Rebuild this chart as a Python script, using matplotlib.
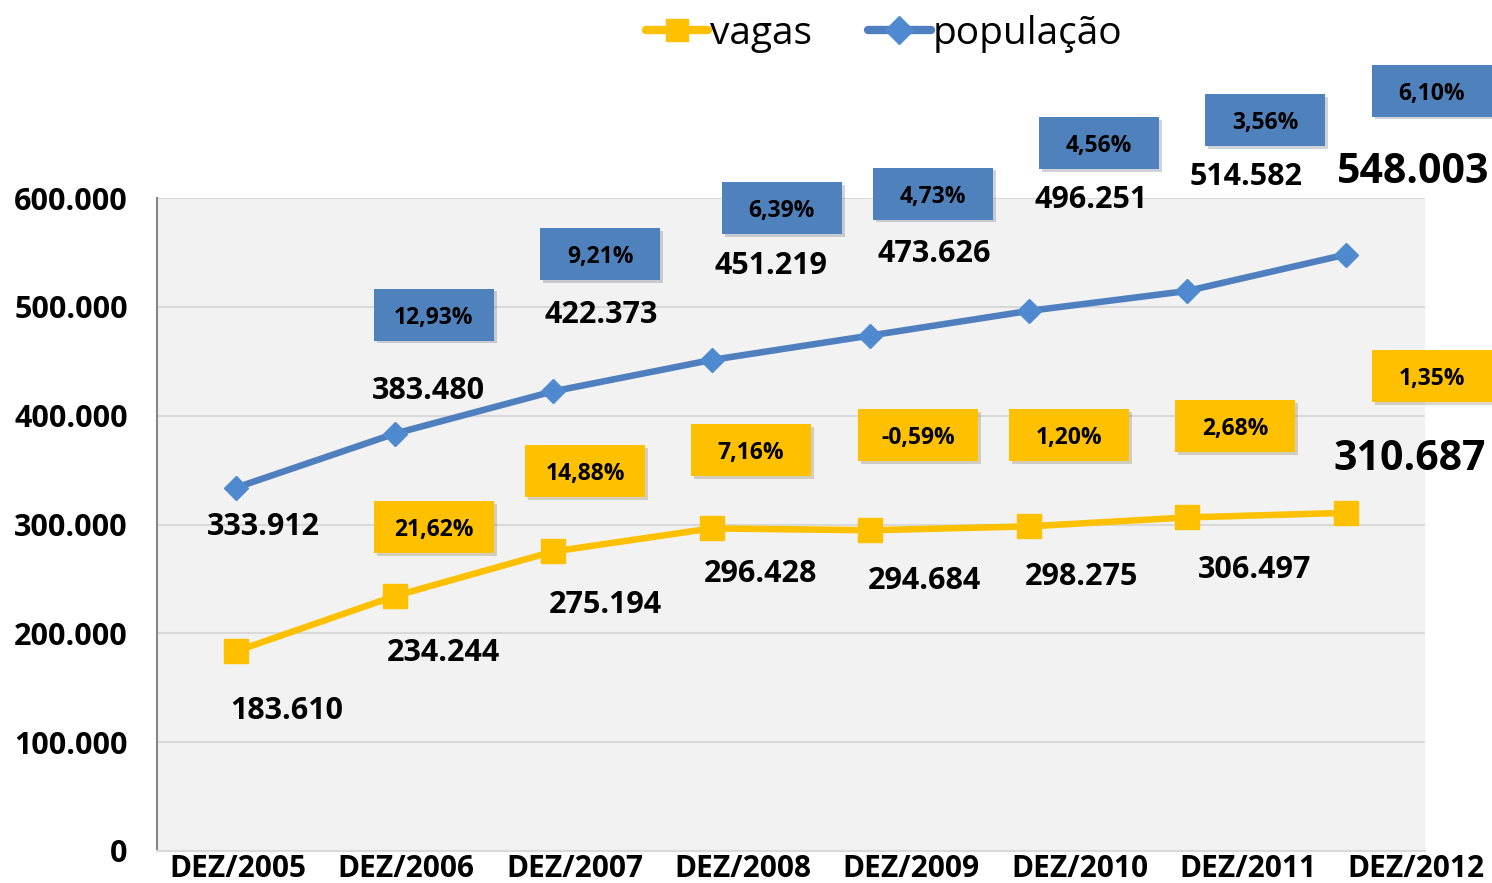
import matplotlib
matplotlib.use("Agg")
import matplotlib.pyplot as plt
from matplotlib.patches import Rectangle
from matplotlib.lines import Line2D
import matplotlib.patheffects as pe

plt.rcParams['font.family'] = ['Open Sans', 'DejaVu Sans']

categorias = ["DEZ/2005", "DEZ/2006", "DEZ/2007", "DEZ/2008",
              "DEZ/2009", "DEZ/2010", "DEZ/2011", "DEZ/2012"]
populacao = [333912, 383480, 422373, 451219, 473626, 496251, 514582, 548003]
vagas = [183610, 234244, 275194, 296428, 294684, 298275, 306497, 310687]
pct_populacao = ["", "12,93%", "9,21%", "6,39%", "4,73%", "4,56%", "3,56%", "6,10%"]
pct_vagas = ["", "21,62%", "14,88%", "7,16%", "-0,59%", "1,20%", "2,68%", "1,35%"]

# deslocamentos (em pixels) dos rotulos em relacao aos pontos
off_val_pop = [(27, -39), (34, 43), (48, 76), (59, 94), (64, 82), (62, 111), (59, 114), (67, 82)]
off_box_pop = [None, (39, 119), (47, 137), (70, 152), (63, 142), (70, 168), (78, 171), (86, 164)]
off_val_vag = [(51, -60), (49, -57), (52, -54), (49, -46), (54, -51), (53, -51), (67, -53), (64, 53)]
off_box_vag = [None, (39, 69), (32, 80), (39, 78), (48, 95), (40, 91), (48, 91), (86, 137)]

AZUL = "#4f81bd"
AZUL_LINHA = "#4f7fbf"
AMARELO = "#ffc000"

W, H = 1492, 883
fig = plt.figure(figsize=(W / 100, H / 100), dpi=100)
ax = fig.add_axes([157 / W, (H - 851) / H, (1425 - 157) / W, (851 - 198) / H])
ax.set_facecolor("#f2f2f2")

x = list(range(len(categorias)))
ax.plot(x, populacao, color=AZUL_LINHA, lw=4.7, marker="D", markersize=12,
        markerfacecolor="#4f8ad0", markeredgecolor="#4f8ad0", solid_capstyle="round", zorder=3)
ax.plot(x, vagas, color=AMARELO, lw=4.7, marker="s", markersize=17,
        markerfacecolor=AMARELO, markeredgecolor=AMARELO, solid_capstyle="round", zorder=3)

ax.set_xlim(-0.5, len(categorias) - 0.5)
ax.set_ylim(0, 600000)
ax.set_yticks(range(0, 600001, 100000))
ax.set_yticklabels(["0"] + [f"{v // 1000}.000" for v in range(100000, 600001, 100000)])
ax.tick_params(axis="y", length=0, pad=21, labelsize=22)
for lab in ax.get_yticklabels():
    lab.set_fontweight("bold")
ax.set_xticks([])
ax.grid(axis="y", color="#d9d9d9", lw=1.5)
ax.set_axisbelow(True)
for s in ["top", "right"]:
    ax.spines[s].set_visible(False)
ax.spines["left"].set_color("#868686")
ax.spines["left"].set_linewidth(1.5)
ax.spines["bottom"].set_color("#d9d9d9")
ax.spines["bottom"].set_linewidth(1.5)

# rotulos do eixo x (levemente deslocados como no original)
ax2 = ax.twiny()
ax2.set_xlim(-0.481, 7.053)
ax2.xaxis.set_ticks_position("bottom")
ax2.xaxis.set_label_position("bottom")
ax2.set_xticks(x)
ax2.set_xticklabels(categorias, fontsize=21.5, fontweight="bold")
ax2.tick_params(axis="x", length=0, pad=2)
for s in ax2.spines.values():
    s.set_visible(False)

fig.canvas.draw()


def caixa(i, valor, off, texto, cor):
    px, py = ax.transData.transform((i, valor))
    cx, cy = px + off[0], py + off[1]
    r = Rectangle((cx - 60, cy - 26), 120, 52, transform=None, facecolor=cor,
                  edgecolor="none", zorder=5)
    r.set_path_effects([pe.SimplePatchShadow(offset=(2, -2), alpha=0.2), pe.Normal()])
    fig.patches.append(r)
    fig.text(cx / W, (cy - 3) / H, texto, ha="center", va="center", fontsize=16.5,
             fontweight="bold", color="black", zorder=6)


for i in x:
    tam = 29.5 if i == len(x) - 1 else 22
    ax.annotate(f"{populacao[i] // 1000}.{populacao[i] % 1000:03d}", (i, populacao[i]),
                xytext=off_val_pop[i], textcoords="offset pixels", ha="center", va="center",
                fontsize=tam, fontweight="bold", annotation_clip=False)
    ax.annotate(f"{vagas[i] // 1000}.{vagas[i] % 1000:03d}", (i, vagas[i]),
                xytext=off_val_vag[i], textcoords="offset pixels", ha="center", va="center",
                fontsize=tam, fontweight="bold", annotation_clip=False)
    if pct_populacao[i]:
        caixa(i, populacao[i], off_box_pop[i], pct_populacao[i], AZUL)
    if pct_vagas[i]:
        caixa(i, vagas[i], off_box_vag[i], pct_vagas[i], AMARELO)

# legenda
h_vagas = Line2D([], [], color=AMARELO, lw=6, marker="s", markersize=16, solid_capstyle="round")
h_pop = Line2D([], [], color=AZUL_LINHA, lw=6, marker="D", markersize=14,
               markerfacecolor="#4f8ad0", markeredgecolor="#4f8ad0", solid_capstyle="round")
fig.legend([h_vagas, h_pop], ["vagas", "população"], loc="center", ncol=2,
           bbox_to_anchor=(884 / W, 1 - 34 / H), frameon=False, fontsize=28,
           handlelength=1.6, handletextpad=0.05, columnspacing=1.45)

fig.savefig("out.png", dpi=100)
